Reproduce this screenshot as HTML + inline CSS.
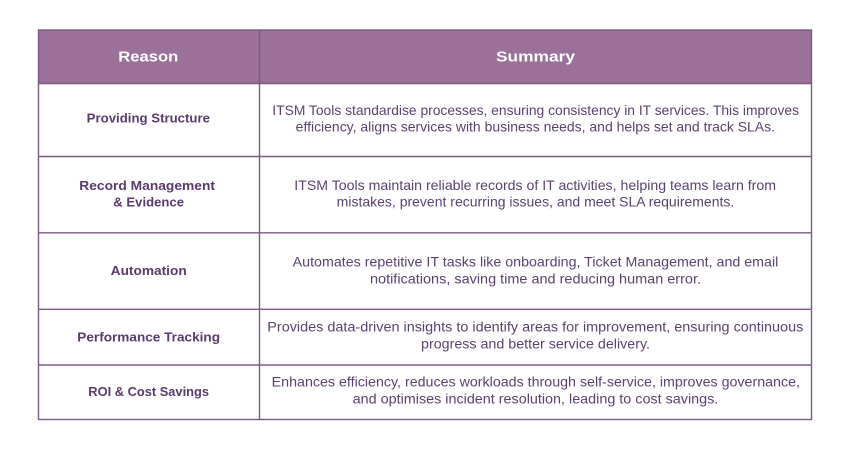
<!DOCTYPE html>
<html><head><meta charset="utf-8"><style>
html,body{margin:0;padding:0;background:#fff;}
svg{display:block;}
.h{font-family:"Liberation Sans",sans-serif;font-weight:bold;font-size:15px;fill:#fff;}
.r{font-family:"Liberation Sans",sans-serif;font-weight:bold;font-size:13px;fill:#5b3a6c;}
.s{font-family:"Liberation Sans",sans-serif;font-size:13.9px;fill:#5a4270;}
</style></head><body>
<svg width="850" height="450" viewBox="0 0 850 450" xmlns="http://www.w3.org/2000/svg">
<rect x="0" y="0" width="850" height="450" fill="#fff"/>
<rect x="38.5" y="30" width="773" height="53.5" fill="#9b7199"/>
<g stroke="#7b5886" stroke-width="1.4" fill="none">
<rect x="38.5" y="30" width="773" height="389.5"/>
<line x1="259.5" y1="30" x2="259.5" y2="419.5"/>
<line x1="38.5" y1="83.5" x2="811.5" y2="83.5"/>
<line x1="38.5" y1="156.5" x2="811.5" y2="156.5"/>
<line x1="38.5" y1="232.8" x2="811.5" y2="232.8"/>
<line x1="38.5" y1="309.3" x2="811.5" y2="309.3"/>
<line x1="38.5" y1="365" x2="811.5" y2="365"/>
</g>
<text class="h" x="118.3" y="61.7" textLength="60" lengthAdjust="spacingAndGlyphs">Reason</text>
<text class="h" x="496" y="61.7" textLength="79" lengthAdjust="spacingAndGlyphs">Summary</text>

<text class="r" x="86.7" y="122.7" textLength="123.3" lengthAdjust="spacingAndGlyphs">Providing Structure</text>
<text class="r" x="79.3" y="190" textLength="135.7" lengthAdjust="spacingAndGlyphs">Record Management</text>
<text class="r" x="113.3" y="206.7" textLength="70.7" lengthAdjust="spacingAndGlyphs">&amp; Evidence</text>
<text class="r" x="110.7" y="275" textLength="76" lengthAdjust="spacingAndGlyphs">Automation</text>
<text class="r" x="77.3" y="341.7" textLength="142.7" lengthAdjust="spacingAndGlyphs">Performance Tracking</text>
<text class="r" x="88.3" y="396" textLength="120.7" lengthAdjust="spacingAndGlyphs">ROI &amp; Cost Savings</text>

<text class="s" x="272.3" y="115" textLength="526.7" lengthAdjust="spacingAndGlyphs">ITSM Tools standardise processes, ensuring consistency in IT services. This improves</text>
<text class="s" x="295.7" y="131.7" textLength="479.3" lengthAdjust="spacingAndGlyphs">efficiency, aligns services with business needs, and helps set and track SLAs.</text>
<text class="s" x="294.3" y="190" textLength="481.7" lengthAdjust="spacingAndGlyphs">ITSM Tools maintain reliable records of IT activities, helping teams learn from</text>
<text class="s" x="336.7" y="206.7" textLength="397.6" lengthAdjust="spacingAndGlyphs">mistakes, prevent recurring issues, and meet SLA requirements.</text>
<text class="s" x="292.7" y="266.7" textLength="485.6" lengthAdjust="spacingAndGlyphs">Automates repetitive IT tasks like onboarding, Ticket Management, and email</text>
<text class="s" x="370" y="283.3" textLength="331" lengthAdjust="spacingAndGlyphs">notifications, saving time and reducing human error.</text>
<text class="s" x="267.3" y="331.7" textLength="536" lengthAdjust="spacingAndGlyphs">Provides data-driven insights to identify areas for improvement, ensuring continuous</text>
<text class="s" x="421" y="348.3" textLength="229" lengthAdjust="spacingAndGlyphs">progress and better service delivery.</text>
<text class="s" x="271.7" y="386.7" textLength="528.3" lengthAdjust="spacingAndGlyphs">Enhances efficiency, reduces workloads through self-service, improves governance,</text>
<text class="s" x="352.7" y="403.3" textLength="365.6" lengthAdjust="spacingAndGlyphs">and optimises incident resolution, leading to cost savings.</text>
</svg>
</body></html>
